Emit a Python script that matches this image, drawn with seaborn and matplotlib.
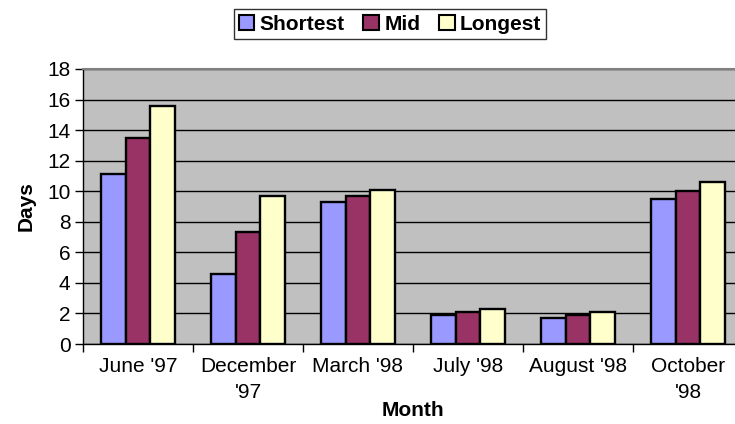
import matplotlib
matplotlib.use("Agg")
import matplotlib.pyplot as plt
import seaborn as sns
import pandas as pd
import numpy as np
from matplotlib.ticker import FixedLocator
from matplotlib.patches import Patch

months = ["June '97", "December\n'97", "March '98", "July '98", "August '98", "October\n'98"]
series = ["Shortest", "Mid", "Longest"]
shortest = [11.1, 4.6, 9.3, 1.9, 1.7, 9.5]
mid = [13.5, 7.3, 9.7, 2.1, 1.9, 10.0]
longest = [15.6, 9.7, 10.1, 2.3, 2.1, 10.6]
colors = ["#9999FF", "#993366", "#FFFFCC"]

df = pd.DataFrame({
    "Month": months * 3,
    "Series": [s for s in series for _ in months],
    "Days": shortest + mid + longest,
})

sns.set_theme(style="white")
plt.rcParams["font.family"] = ["Liberation Sans", "DejaVu Sans"]
plt.rcParams["text.color"] = "black"
plt.rcParams["axes.labelcolor"] = "black"
plt.rcParams["xtick.color"] = "black"
plt.rcParams["ytick.color"] = "black"

fig = plt.figure(figsize=(7.35, 4.24), dpi=100)
ax = fig.add_axes([83/735, 1-344/424, 660/735, 275/424])
ax.set_facecolor("#C0C0C0")

sns.barplot(data=df, x="Month", y="Days", hue="Series", order=months,
            hue_order=series, palette=colors, width=0.67, gap=0,
            edgecolor="black", linewidth=1.7, saturation=1, ax=ax, legend=False)

ax.set_ylim(0, 18)
ax.set_xlim(-0.5, len(months) - 0.5)
ax.set_yticks(np.arange(0, 19, 2))
ax.set_xticks(range(len(months)))
ax.set_xticklabels(months, linespacing=1.5)
ax.yaxis.grid(True, color="black", linewidth=1)
ax.set_axisbelow(True)
ax.tick_params(axis="y", labelsize=15, length=6, width=1, color="black", direction="out", left=True, pad=3)
ax.tick_params(axis="x", which="major", labelsize=15, length=0, pad=9)
ax.xaxis.set_minor_locator(FixedLocator(np.arange(-0.5, len(months), 1)))
ax.tick_params(axis="x", which="minor", length=6, width=1, color="black", direction="out", bottom=True)

for s in ["left", "bottom"]:
    ax.spines[s].set_color("black")
    ax.spines[s].set_linewidth(1)
ax.spines["top"].set_color("#808080")
ax.spines["top"].set_linewidth(1.5)
ax.spines["right"].set_visible(False)

ax.set_xlabel("Month", fontsize=15, fontweight="bold", labelpad=0)
ax.set_ylabel("Days", fontsize=15, fontweight="bold", labelpad=8)
ax.xaxis.set_label_coords(0.5, -(410 - 344) / 275, transform=ax.transAxes)
ax.xaxis.label.set_va("center")

handles = [Patch(facecolor=c, edgecolor="black", linewidth=1.5) for c in colors]
leg = fig.legend(handles, series, loc="center", bbox_to_anchor=(390/735, 1-24/424),
                 ncol=3, frameon=True, fancybox=False, edgecolor="black",
                 prop={"size": 15, "weight": "bold"}, handlelength=0.75, handleheight=0.75,
                 handletextpad=0.25, columnspacing=0.9, borderpad=0.25, borderaxespad=0)
leg.get_frame().set_linewidth(1)

fig.savefig("out.png", dpi=100)
